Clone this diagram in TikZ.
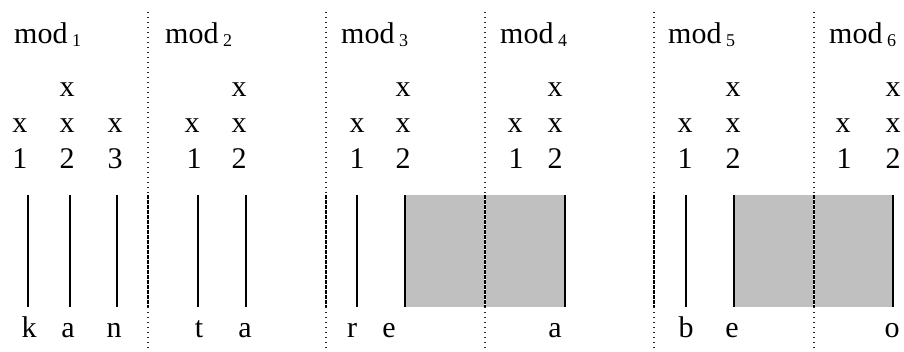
\documentclass[tikz,border=0pt]{standalone}
\usepackage{fontspec}
\setmainfont{Liberation Serif}
\usetikzlibrary{positioning}

\definecolor{boxgray}{RGB}{192,192,192}
\newcommand{\modname}[1]{mod\raisebox{-3pt}{\fontsize{18}{18}\selectfont\ #1}}

\begin{document}
\begin{tikzpicture}[
        x = 1pt, y = -1pt,
        every node/.style = {inner sep = 0pt, anchor = base, font = \fontsize{30}{36}\selectfont},
        modlabel/.style = {anchor = base west},
        assoc/.style = {line width = 1.6pt},
        sepline/.style = {draw = black!85, line width = 1.1pt, dash pattern = on 1.2pt off 3.8pt},
        sepwhite/.style = {draw = white, line width = 2pt},
        sepbold/.style = {line width = 2pt, dash pattern = on 3.5pt off 1.5pt},
        gapbox/.style = {fill = boxgray}
    ]

      \useasboundingbox (0,0) rectangle (904,351);

      \coordinate (top)  at (0,195);
      \coordinate (bot)  at (0,307);
      \coordinate (foot) at (0,351);

      % module boundaries
      \coordinate (s1) at (148,12);
      \coordinate (s2) at (326,12);
      \coordinate (s3) at (485,12);
      \coordinate (s4) at (654,12);
      \coordinate (s5) at (814,12);

      % association lines and empty slots
      \coordinate (l11) at (28,195);
      \coordinate (l12) at (70,195);
      \coordinate (l13) at (117,195);
      \coordinate (l21) at (198,195);
      \coordinate (l22) at (246,195);
      \coordinate (l31) at (357,195);
      \coordinate (g1a) at (405,195);
      \coordinate (g1b) at (565,195);
      \coordinate (l51) at (686,195);
      \coordinate (g2a) at (734,195);
      \coordinate (g2b) at (893,195);

      \fill[gapbox] (g1a) rectangle (g1b |- bot);
      \fill[gapbox] (g2a) rectangle (g2b |- bot);

      \draw[sepline] (s1) -- (s1 |- foot) (s2) -- (s2 |- foot) (s3) -- (s3 |- foot)
                     (s4) -- (s4 |- foot) (s5) -- (s5 |- foot);
      \draw[sepwhite] (s1 |- top) -- (s1 |- bot) (s2 |- top) -- (s2 |- bot) (s3 |- top) -- (s3 |- bot)
                      (s4 |- top) -- (s4 |- bot) (s5 |- top) -- (s5 |- bot);
      \draw[sepbold] (s1 |- top) -- (s1 |- bot) (s2 |- top) -- (s2 |- bot) (s3 |- top) -- (s3 |- bot)
                     (s4 |- top) -- (s4 |- bot) (s5 |- top) -- (s5 |- bot);

      \draw[assoc] (l11) -- (l11 |- bot) (l12) -- (l12 |- bot) (l13) -- (l13 |- bot)
                   (l21) -- (l21 |- bot) (l22) -- (l22 |- bot) (l31) -- (l31 |- bot)
                   (g1a) -- (g1a |- bot) (g1b) -- (g1b |- bot) (l51) -- (l51 |- bot)
                   (g2a) -- (g2a |- bot) (g2b) -- (g2b |- bot);

      % labels
      \node[modlabel] (m1) at (14,43)  {\modname{1}};
      \node[modlabel] (m2) at (165,43) {\modname{2}};
      \node[modlabel] (m3) at (341,43) {\modname{3}};
      \node[modlabel] (m4) at (500,43) {\modname{4}};
      \node[modlabel] (m5) at (668,43) {\modname{5}};
      \node[modlabel] (m6) at (829,43) {\modname{6}};

      % grid columns
      \node (xx12) at (67,96)  {x};
      \node (xx22) at (239,96) {x};
      \node (xx32) at (403,96) {x};
      \node (xx42) at (555,96) {x};
      \node (xx52) at (733,96) {x};
      \node (xx62) at (893,96) {x};

      \node (x11) at (20,132)  {x};
      \node (x12) at (67,132)  {x};
      \node (x13) at (115,132) {x};
      \node (x21) at (192,132) {x};
      \node (x22) at (239,132) {x};
      \node (x31) at (357,132) {x};
      \node (x32) at (403,132) {x};
      \node (x41) at (515,132) {x};
      \node (x42) at (555,132) {x};
      \node (x51) at (685,132) {x};
      \node (x52) at (733,132) {x};
      \node (x61) at (843,132) {x};
      \node (x62) at (893,132) {x};

      \node (d11) at (20,168)  {1};
      \node (d12) at (67,168)  {2};
      \node (d13) at (115,168) {3};
      \node (d21) at (194,168) {1};
      \node (d22) at (239,168) {2};
      \node (d31) at (357,168) {1};
      \node (d32) at (403,168) {2};
      \node (d41) at (516,168) {1};
      \node (d42) at (555,168) {2};
      \node (d51) at (685,168) {1};
      \node (d52) at (733,168) {2};
      \node (d61) at (844,168) {1};
      \node (d62) at (893,168) {2};

      % segments
      \node (k1) at (29,337)  {k};
      \node (a1) at (68,337)  {a};
      \node (n1) at (114,337) {n};
      \node (t2) at (199,337) {t};
      \node (a2) at (245,337) {a};
      \node (r3) at (352,337) {r};
      \node (e3) at (389,337) {e};
      \node (a4) at (555,337) {a};
      \node (b5) at (686,337) {b};
      \node (e5) at (732,337) {e};
      \node (o6) at (892,337) {o};

    \end{tikzpicture}
\end{document}
